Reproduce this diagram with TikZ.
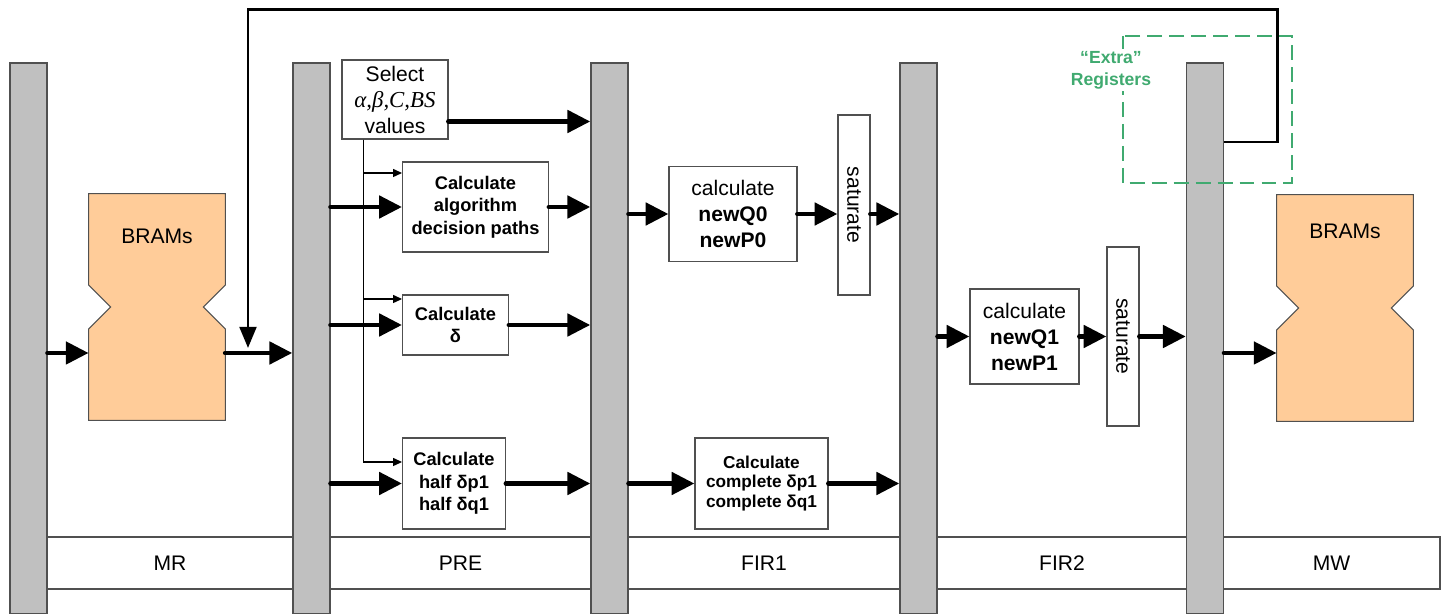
\documentclass[tikz,border=0pt]{standalone}
\usepackage{fontspec}
\setmainfont{Liberation Sans}
\newfontfamily\greekserif{Liberation Serif}
\usetikzlibrary{positioning}
\usetikzlibrary{arrows.meta}
\usetikzlibrary{calc}
\definecolor{bargray}{RGB}{192,192,192}
\definecolor{bramfill}{RGB}{255,204,153}
\definecolor{regsgreen}{RGB}{64,170,112}
\definecolor{edgegray}{RGB}{80,80,80}

\begin{document}
\begin{tikzpicture}[x=0.02cm, y=-0.02cm,
  regbar/.style={draw=edgegray, line width=0.8pt, fill=bargray, minimum width=0.74cm, minimum height=11.02cm, inner sep=0pt},
  stagebox/.style={draw=edgegray, line width=0.6pt, fill=white, minimum height=1.04cm, inner sep=0pt, font=\fontsize{12}{14}\selectfont},
  plainbox/.style={draw=edgegray, line width=0.6pt, fill=white, align=center, inner sep=0pt, font=\fontsize{12}{14.8}\selectfont},
  calcbox/.style={draw=edgegray, line width=0.6pt, fill=white, align=center, inner sep=0pt, font=\bfseries\fontsize{10.4}{12.75}\selectfont},
  satbox/.style={draw=edgegray, line width=0.6pt, fill=white, inner sep=0pt, minimum width=0.64cm, font=\fontsize{12}{14}\selectfont},
  bramshape/.style={draw=edgegray, line width=0.6pt, fill=bramfill},
  bigarrow/.style={line width=2.8pt, line cap=round, -{Triangle[length=13pt,width=12.5pt]}},
  thinarrow/.style={line width=0.6pt, -{Triangle[length=5pt,width=4.5pt]}},
]
\fill[white] (0,0) rectangle (1448,614);
\useasboundingbox (0,0) rectangle (1448,614);

%stage labels
\foreach \n/\x/\w/\t in {mr/170/4.92/MR, pre/460.5/5.22/PRE, fira/764/5.44/FIR1, firb/1062/5.0/FIR2, mw/1331.5/4.34/MW}
  \node[stagebox, minimum width=\w cm] (\n) at (\x,563) {\t};

%pipeline registers
\foreach \n/\x in {1/28.5, 2/311.5, 3/609.5, 4/918.5, 5/1205}
  \node[regbar] (bar\n) at (\x,338.5) {};

%BRAMs
\node[minimum width=2.72cm, minimum height=4.52cm, inner sep=0pt] (bramL) at (157,307) {};
\node[minimum width=2.72cm, minimum height=4.52cm, inner sep=0pt] (bramR) at (1345,308) {};
\foreach \b in {bramL, bramR}
  \draw[bramshape] (\b.north west) -- (\b.north east) -- ([yshift=0.44cm]\b.east)
    -- ([xshift=-0.44cm]\b.east) -- ([yshift=-0.44cm]\b.east) -- (\b.south east)
    -- (\b.south west) -- ([yshift=-0.44cm]\b.west) -- ([xshift=0.44cm]\b.west)
    -- ([yshift=0.44cm]\b.west) -- cycle;
\node[font=\fontsize{12}{14}\selectfont] at ([yshift=-0.86cm]bramL.north) {BRAMs};
\node[font=\fontsize{12}{14}\selectfont] at ([yshift=-0.74cm]bramR.north) {BRAMs};
\coordinate (bramLin) at ([yshift=-0.92cm]bramL.west);
\coordinate (bramRin) at ([yshift=-0.9cm]bramR.west);
\draw[bigarrow] (bar1.east |- bramLin) -- (bramLin);
\draw[bigarrow] (bramL.east |- bramLin) -- (bar2.west |- bramLin);
\draw[bigarrow] (bar5.east |- bramRin) -- (bramRin);

%feedback from the extra registers
\coordinate (fbturn) at (1277,10);
\coordinate (fbend) at (248,348);
\draw[line width=1.7pt, -{Triangle[length=12pt,width=9.5pt]}] (bar5.east |- 0,142) -| (fbturn) -| (fbend);

%PRE
\node[plainbox, minimum width=2.12cm, minimum height=1.58cm] (sel) at (395,99.5) {Select\\{\greekserif\itshape\fontsize{13}{14.8}\selectfont α,β,C,BS}\\values};
\node[calcbox, anchor=west, minimum width=2.92cm, minimum height=1.8cm] (dec) at (402,207) {Calculate\\algorithm\\decision paths};
\node[calcbox, anchor=west, minimum width=2.12cm, minimum height=1.2cm] (del) at (402,325) {Calculate\\δ};
\node[calcbox, anchor=west, minimum width=2.06cm, minimum height=1.82cm] (hlf) at (402,483.5) {Calculate\\half δp1\\half δq1};
\coordinate (selout) at ([yshift=-0.44cm]sel.east);
\coordinate (selbr) at ([xshift=0.44cm]sel.south west);
\draw[bigarrow] (selout) -- (selout -| bar3.west);
\draw[thinarrow] (selbr) |- (dec.west |- 0,173);
\draw[thinarrow] (selbr) |- (del.west |- 0,299);
\draw[thinarrow] (selbr) |- (hlf.west |- 0,462);
\draw[bigarrow] (bar2.east |- dec.west) -- (dec.west);
\draw[bigarrow] (dec.east) -- (dec.east -| bar3.west);
\draw[bigarrow] (bar2.east |- del.west) -- (del.west);
\draw[bigarrow] (del.east) -- (del.east -| bar3.west);
\draw[bigarrow] (bar2.east |- hlf.west) -- (hlf.west);
\draw[bigarrow] (hlf.east) -- (hlf.east -| bar3.west);

%FIR1
\node[plainbox, minimum width=2.56cm, minimum height=1.9cm] (nqa) at (733,214) {calculate\\\textbf{newQ0}\\\textbf{newP0}};
\node[satbox, minimum height=3.6cm] (sata) at (854,205) {\rotatebox{-90}{saturate}};
\node[calcbox, minimum width=2.66cm, minimum height=1.82cm, font=\bfseries\fontsize{9.8}{11.3}\selectfont] (cmp) at (761.5,483.5) {Calculate\\complete δp1\\complete δq1};
\draw[bigarrow] (bar3.east |- nqa.west) -- (nqa.west);
\draw[bigarrow] (nqa.east) -- (nqa.east -| sata.west);
\draw[bigarrow] (sata.east |- nqa.east) -- (bar4.west |- nqa.east);
\draw[bigarrow] (bar3.east |- cmp.west) -- (cmp.west);
\draw[bigarrow] (cmp.east) -- (cmp.east -| bar4.west);

%FIR2
\node[plainbox, minimum width=2.18cm, minimum height=1.9cm] (nqb) at (1024.5,336.5) {calculate\\\textbf{newQ1}\\\textbf{newP1}};
\node[satbox, minimum height=3.58cm] (satb) at (1123,336.5) {\rotatebox{-90}{saturate}};
\draw[bigarrow] (bar4.east |- nqb.west) -- (nqb.west);
\draw[bigarrow] (nqb.east) -- (satb.west |- nqb.east);
\draw[bigarrow] (satb.east |- nqb.east) -- (bar5.west |- nqb.east);

%extra registers
\draw[regsgreen, line width=1.1pt, dash pattern=on 8.5pt off 4pt] (1123,36) rectangle (1292,183);
\node[fill=white, text=regsgreen, align=center, inner sep=1pt, font=\bfseries\fontsize{10}{12.4}\selectfont] (xregs) at (1111,70) {“Extra”\\Registers};
\end{tikzpicture}
\end{document}
